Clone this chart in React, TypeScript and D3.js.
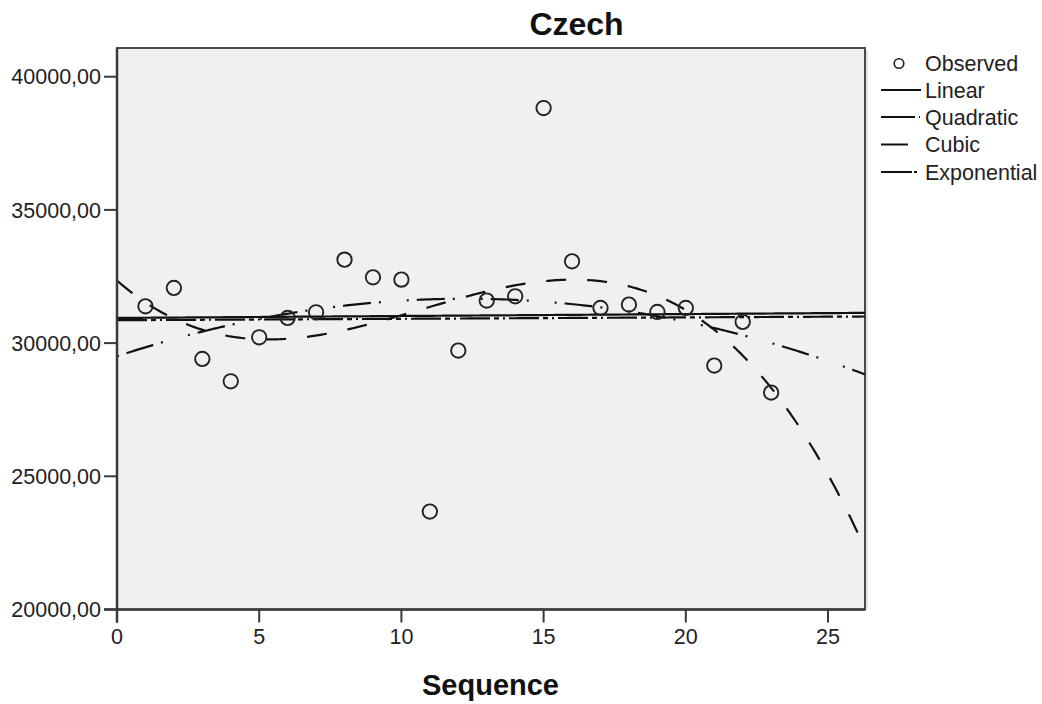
import React from "react";
import * as d3 from "d3";

// Observed values by sequence number
const sequence = [1, 2, 3, 4, 5, 6, 7, 8, 9, 10, 11, 12, 13, 14, 15, 16, 17, 18, 19, 20, 21, 22, 23];
const observed = [
  31381, 32071, 29406, 28567, 30218, 30945, 31157, 33133, 32470, 32383, 23677, 29719,
  31595, 31757, 38824, 33070, 31320, 31445, 31170, 31320, 29156, 30795, 28143,
];

const xTicks = [0, 5, 10, 15, 20, 25];
const yTicks = [20000, 25000, 30000, 35000, 40000];
const legendLabels = ["Observed", "Linear", "Quadratic", "Cubic", "Exponential"];

const W = 1042;
const H = 704;
const plot = { left: 117, top: 48, right: 865, bottom: 609.5 };

// Least-squares polynomial fit of given degree (normal equations + Gaussian elimination)
function polyFit(xs: number[], ys: number[], degree: number): number[] {
  const n = degree + 1;
  const A: number[][] = Array.from({ length: n }, () => new Array(n + 1).fill(0));
  for (let i = 0; i < xs.length; i++) {
    for (let r = 0; r < n; r++) {
      for (let c = 0; c < n; c++) A[r][c] += Math.pow(xs[i], r + c);
      A[r][n] += ys[i] * Math.pow(xs[i], r);
    }
  }
  for (let col = 0; col < n; col++) {
    let piv = col;
    for (let r = col + 1; r < n; r++) if (Math.abs(A[r][col]) > Math.abs(A[piv][col])) piv = r;
    [A[col], A[piv]] = [A[piv], A[col]];
    for (let r = 0; r < n; r++) {
      if (r === col) continue;
      const f = A[r][col] / A[col][col];
      for (let c = col; c <= n; c++) A[r][c] -= f * A[col][c];
    }
  }
  return A.map((row, i) => row[n] / row[i]);
}

const evalPoly = (coef: number[], x: number) => coef.reduce((s, c, i) => s + c * Math.pow(x, i), 0);

const linCoef = polyFit(sequence, observed, 1);
const quadCoef = polyFit(sequence, observed, 2);
const cubCoef = polyFit(sequence, observed, 3);
const expCoef = polyFit(sequence, observed.map((v) => Math.log(v)), 1);

const x = d3.scaleLinear().domain([0, 26.3]).range([plot.left, plot.right]);
const y = d3.scaleLinear().domain([20000, 40000]).range([plot.bottom, 76.7]);

const samples = d3.range(0, 26.3 + 1e-9, 26.3 / 300);

type Fit = { name: string; f: (t: number) => number; dash: string };
const fits: Fit[] = [
  { name: "Linear", f: (t) => evalPoly(linCoef, t), dash: "none" },
  { name: "Quadratic", f: (t) => evalPoly(quadCoef, t), dash: "2,8,28,8,2,26" },
  { name: "Cubic", f: (t) => evalPoly(cubCoef, t), dash: "20,21" },
  { name: "Exponential", f: (t) => Math.exp(evalPoly(expCoef, t)), dash: "30,4,5,4,2,4" },
];

const fmt = (v: number) => v.toFixed(2).replace(".", ",");

export default function App() {
  const line = (f: (t: number) => number) =>
    d3.line<number>().x((t) => x(t)).y((t) => y(f(t)))(samples) || "";

  const legendX = 925;
  const legendRows = [63.5, 90, 117, 144.5, 172];

  return (
    <svg
      width={W}
      height={H}
      style={{ position: "absolute", left: 0, top: 0, background: "#fff" }}
      fontFamily="'Liberation Sans', Arial, sans-serif"
    >
      <defs>
        <clipPath id="plotClip">
          <rect x={plot.left} y={plot.top} width={plot.right - plot.left} height={plot.bottom - plot.top} />
        </clipPath>
      </defs>

      {/* plot frame */}
      <rect
        x={plot.left}
        y={plot.top}
        width={plot.right - plot.left}
        height={plot.bottom - plot.top}
        fill="#f0f0f0"
        stroke="#4a4a4a"
        strokeWidth={2}
      />
      <line x1={plot.right + 2} x2={plot.right + 2} y1={plot.top + 2} y2={plot.bottom} stroke="#c8c8c8" strokeWidth={1} />

      {/* fitted curves */}
      <g clipPath="url(#plotClip)" fill="none" stroke="#111" strokeWidth={2.2}>
        {fits.map((ft) => (
          <path key={ft.name} d={line(ft.f)} strokeDasharray={ft.dash} />
        ))}
      </g>

      {/* observed points */}
      <g fill="none" stroke="#222" strokeWidth={1.9}>
        {sequence.map((s, i) => (
          <circle key={s} cx={x(s)} cy={y(observed[i])} r={7.2} />
        ))}
      </g>

      {/* axes */}
      <line x1={plot.left} x2={plot.left} y1={plot.top} y2={plot.bottom + 13} stroke="#3a3a3a" strokeWidth={2.5} />
      <line x1={plot.left - 13} x2={plot.right} y1={plot.bottom} y2={plot.bottom} stroke="#3a3a3a" strokeWidth={2.5} />
      {yTicks.map((t) => (
        <g key={t}>
          <line x1={plot.left - 13} x2={plot.left} y1={y(t)} y2={y(t)} stroke="#3a3a3a" strokeWidth={2} />
          <text x={plot.left - 16} y={y(t)} dy="0.36em" textAnchor="end" fontSize={21.5} fill="#222">
            {fmt(t)}
          </text>
        </g>
      ))}
      {xTicks.map((t) => (
        <g key={t}>
          <line x1={x(t)} x2={x(t)} y1={plot.bottom} y2={plot.bottom + 13} stroke="#3a3a3a" strokeWidth={2} />
          <text x={x(t)} y={644} textAnchor="middle" fontSize={21.5} fill="#222">
            {t}
          </text>
        </g>
      ))}

      {/* titles */}
      <text x={576.5} y={35} textAnchor="middle" fontSize={32} fontWeight="bold" fill="#111">
        Czech
      </text>
      <text x={490.5} y={695} textAnchor="middle" fontSize={29} fontWeight="bold" fill="#111">
        Sequence
      </text>

      {/* legend */}
      <g>
        <circle cx={899} cy={legendRows[0]} r={4.8} fill="none" stroke="#222" strokeWidth={1.6} />
        {fits.map((ft, i) => (
          <line
            key={ft.name}
            x1={881}
            x2={ft.name === "Linear" ? 921 : ft.name === "Cubic" ? 908 : 920}
            y1={legendRows[i + 1]}
            y2={legendRows[i + 1]}
            stroke="#111"
            strokeWidth={2}
            strokeDasharray={
              ft.name === "Quadratic" ? "34,4,2,10" : ft.name === "Exponential" ? "31,2,3,3,2,10" : "none"
            }
          />
        ))}
        {legendLabels.map((lab, i) => (
          <text key={lab} x={legendX} y={legendRows[i]} dy="0.36em" fontSize={21.5} fill="#222">
            {lab}
          </text>
        ))}
      </g>
    </svg>
  );
}
